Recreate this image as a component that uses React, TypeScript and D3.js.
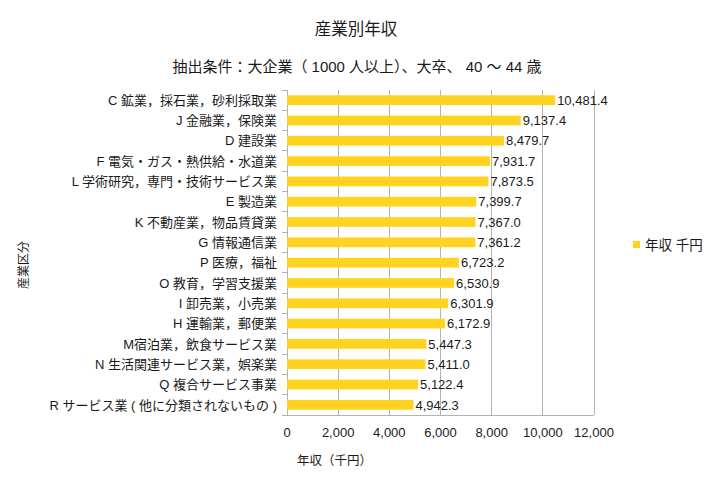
import * as d3 from 'd3';
import { useEffect, useRef } from 'react';

const categories = [
  'C 鉱業，採石業，砂利採取業',
  'J 金融業，保険業',
  'D 建設業',
  'F 電気・ガス・熱供給・水道業',
  'L 学術研究，専門・技術サービス業',
  'E 製造業',
  'K 不動産業，物品賃貸業',
  'G 情報通信業',
  'P 医療，福祉',
  'O 教育，学習支援業',
  'I 卸売業，小売業',
  'H 運輸業，郵便業',
  'M宿泊業，飲食サービス業',
  'N 生活関連サービス業，娯楽業',
  'Q 複合サービス事業',
  'R サービス業 ( 他に分類されないもの )'
];

const incomes = [
  10481.4, 9137.4, 8479.7, 7931.7, 7873.5, 7399.7, 7367.0, 7361.2,
  6723.2, 6530.9, 6301.9, 6172.9, 5447.3, 5411.0, 5122.4, 4942.3
];

const xTicks = [0, 2000, 4000, 6000, 8000, 10000, 12000];

const title = '産業別年収';
const subtitle = '抽出条件：大企業（ 1000 人以上）、大卒、 40 ～ 44 歳';
const xTitle = '年収（千円）';
const yTitle = '産業区分';
const seriesName = '年収 千円';

const FONT = '"Liberation Sans", "Noto Sans CJK JP", sans-serif';
const BAR = '#ffd320';
const GRID = '#b3b3b3';
const INK = '#1a1a1a';

const App = () => {
  const ref = useRef<SVGSVGElement | null>(null);

  useEffect(() => {
    if (!ref.current) return;
    const svg = d3.select(ref.current);
    svg.selectAll('*').remove();

    const width = 713;
    const height = 487;
    const left = 287;
    const right = 594;
    const top = 90;
    const bottom = 415;

    svg.attr('width', width).attr('height', height).style('font-family', FONT);

    const x = d3.scaleLinear().domain([0, 12000]).range([left, right]);
    const y = d3.scaleBand<string>().domain(categories).range([top, bottom]).paddingInner(0.52).paddingOuter(0.26);

    // gridlines
    svg.append('g')
      .selectAll('line')
      .data(xTicks)
      .enter()
      .append('line')
      .attr('x1', d => x(d))
      .attr('x2', d => x(d))
      .attr('y1', top)
      .attr('y2', bottom)
      .attr('stroke', GRID)
      .attr('stroke-width', 1)
      .attr('shape-rendering', 'crispEdges');

    // bottom axis line
    svg.append('line')
      .attr('x1', left).attr('x2', right)
      .attr('y1', bottom).attr('y2', bottom)
      .attr('stroke', GRID)
      .attr('shape-rendering', 'crispEdges');

    // category tick marks at band edges
    const step = (bottom - top) / categories.length;
    svg.append('g')
      .selectAll('line')
      .data(d3.range(categories.length + 1))
      .enter()
      .append('line')
      .attr('x1', left - 5)
      .attr('x2', left)
      .attr('y1', i => top + i * step)
      .attr('y2', i => top + i * step)
      .attr('stroke', GRID)
      .attr('shape-rendering', 'crispEdges');

    // bars
    svg.append('g')
      .selectAll('rect')
      .data(incomes)
      .enter()
      .append('rect')
      .attr('x', x(0))
      .attr('y', (_, i) => y(categories[i]) as number)
      .attr('width', d => x(d) - x(0))
      .attr('height', y.bandwidth())
      .attr('fill', BAR);

    // value labels
    svg.append('g')
      .selectAll('text')
      .data(incomes)
      .enter()
      .append('text')
      .attr('x', d => x(d) + 2)
      .attr('y', (_, i) => (y(categories[i]) as number) + y.bandwidth() / 2)
      .attr('dy', '0.36em')
      .attr('font-size', 13)
      .attr('fill', INK)
      .text(d => d3.format(',.1f')(d));

    // category labels
    svg.append('g')
      .selectAll('text')
      .data(categories)
      .enter()
      .append('text')
      .attr('x', left - 10)
      .attr('y', d => (y(d) as number) + y.bandwidth() / 2)
      .attr('dy', '0.36em')
      .attr('text-anchor', 'end')
      .attr('font-size', 13)
      .attr('fill', INK)
      .text(d => d);

    // x tick labels
    svg.append('g')
      .selectAll('text')
      .data(xTicks)
      .enter()
      .append('text')
      .attr('x', d => x(d))
      .attr('y', 437)
      .attr('text-anchor', 'middle')
      .attr('font-size', 13)
      .attr('fill', INK)
      .text(d => d3.format(',')(d));

    // titles
    svg.append('text')
      .attr('x', 356).attr('y', 35)
      .attr('text-anchor', 'middle')
      .attr('font-size', 16.5)
      .attr('fill', INK)
      .text(title);

    svg.append('text')
      .attr('x', 357).attr('y', 72)
      .attr('text-anchor', 'middle')
      .attr('font-size', 15)
      .attr('fill', INK)
      .text(subtitle);

    svg.append('text')
      .attr('x', 297).attr('y', 465)
      .attr('font-size', 12.5)
      .attr('fill', INK)
      .text(xTitle);

    svg.append('text')
      .attr('transform', 'translate(28, 265) rotate(-90)')
      .attr('text-anchor', 'middle')
      .attr('font-size', 12)
      .attr('fill', INK)
      .text(yTitle);

    // legend
    svg.append('rect')
      .attr('x', 633).attr('y', 241)
      .attr('width', 7).attr('height', 7)
      .attr('fill', BAR);

    svg.append('text')
      .attr('x', 645).attr('y', 249.5)
      .attr('font-size', 13.5)
      .attr('fill', INK)
      .text(seriesName);
  }, []);

  return <svg ref={ref} style={{ position: 'absolute', left: 0, top: 0, display: 'block' }} />;
};

export default App;
